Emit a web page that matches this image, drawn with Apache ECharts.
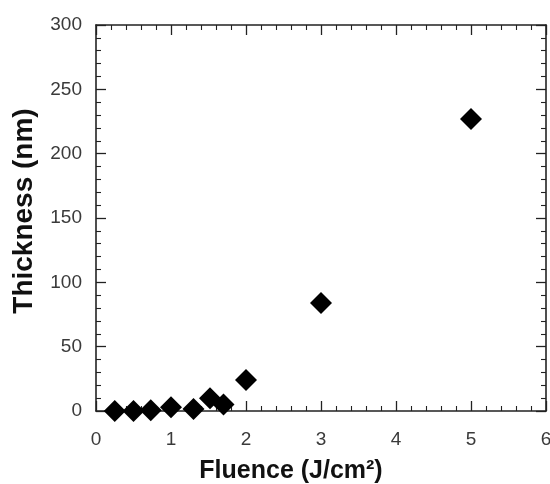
<!DOCTYPE html>
<html><head><meta charset="utf-8">
<script src="https://cdn.jsdelivr.net/npm/echarts@6/dist/echarts.min.js"></script>
<style>html,body{margin:0;padding:0;background:#fff}#c{width:550px;height:484px}</style>
</head><body><div id="c"></div>
<script>
const fluence = [0.25, 0.5, 0.73, 1.0, 1.3, 1.52, 1.7, 2.0, 3.0, 5.0];
const thickness = [0, 0, 0.5, 3, 1.5, 10, 5, 24, 84, 227];
const xTicks = [0, 1, 2, 3, 4, 5, 6];
const yTicks = [0, 50, 100, 150, 200, 250, 300];

const font = 'Liberation Sans, Arial, sans-serif';
function axisBase() {
  return {
    axisLine: {show: true, onZero: false, lineStyle: {color: '#222', width: 1.6}},
    axisTick: {show: true, inside: true, length: 10, lineStyle: {color: '#222', width: 1.3}},
    minorTick: {show: true, splitNumber: 5, length: 5, lineStyle: {color: '#222', width: 1.1}},
    splitLine: {show: false}
  };
}
const chart = echarts.init(document.getElementById('c'));
chart.setOption({
  animation: false,
  grid: {left: 96, right: 4, top: 25, bottom: 73, containLabel: false, outerBoundsMode: 'none'},
  xAxis: [
    Object.assign({type: 'value', min: xTicks[0], max: xTicks[xTicks.length-1], interval: 1, position: 'bottom',
      axisLabel: {color: '#3a3a3a', fontSize: 19, fontFamily: font, margin: 19},
      name: 'Fluence (J/cm²)', nameLocation: 'middle', nameGap: 48,
      nameTextStyle: {color: '#111', fontSize: 25, fontWeight: 'bold', fontFamily: font, padding: [0, 60, 0, 0]}}, axisBase()),
    Object.assign({type: 'value', min: xTicks[0], max: xTicks[xTicks.length-1], interval: 1, position: 'top', axisLabel: {show: false}}, axisBase())
  ],
  yAxis: [
    Object.assign({type: 'value', min: yTicks[0], max: yTicks[yTicks.length-1], interval: 50, position: 'left',
      axisLabel: {color: '#3a3a3a', fontSize: 19, fontFamily: font, margin: 14},
      name: 'Thickness (nm)', nameLocation: 'middle', nameGap: 58,
      nameTextStyle: {color: '#111', fontSize: 28, fontWeight: 'bold', fontFamily: font, padding: [0, 0, 0, 14]}}, axisBase()),
    Object.assign({type: 'value', min: yTicks[0], max: yTicks[yTicks.length-1], interval: 50, position: 'right', axisLabel: {show: false}}, axisBase())
  ],
  series: [{
    type: 'scatter', xAxisIndex: 0, yAxisIndex: 0,
    symbol: 'diamond', symbolSize: 22,
    itemStyle: {color: '#000', opacity: 1},
    data: fluence.map((x, i) => [x, thickness[i]])
  }]
});
</script></body></html>
